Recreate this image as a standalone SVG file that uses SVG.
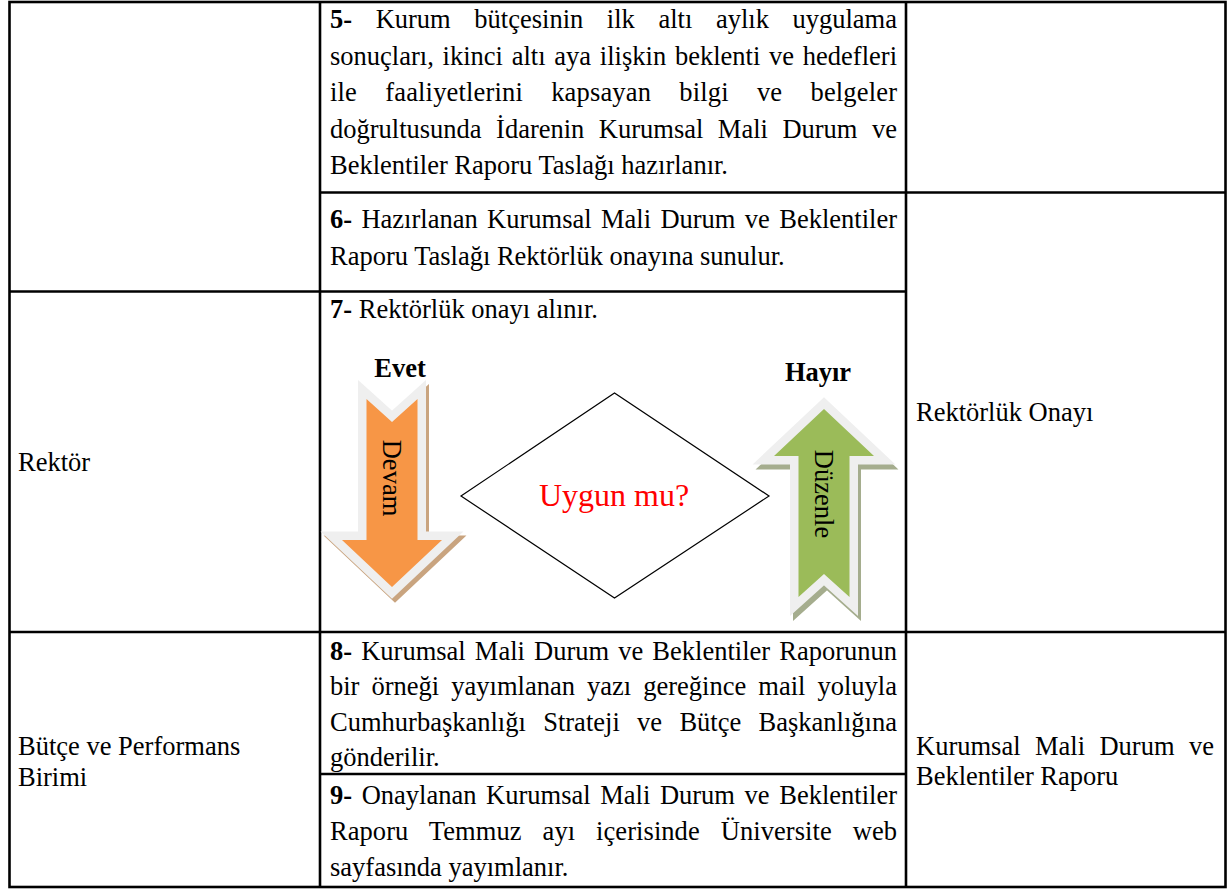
<svg xmlns="http://www.w3.org/2000/svg" width="1227" height="891" viewBox="0 0 1227 891">
  <style>
    text { font-family: "Liberation Serif", "Times New Roman", serif; font-size: 26.5px; fill: #000; }
    .b { font-weight: bold; }
    .grid { fill: none; stroke: #000; stroke-width: 2.6; }
    .dec { fill: #fff; stroke: #000; stroke-width: 1.2; }
    .q { font-size: 32px; fill: #ff0000; }
    .rim { stroke: #efefef; stroke-width: 17; stroke-linejoin: miter; fill: #efefef; }
  </style>
  <defs>
    <!-- block arrow pointing down, notched tail; origin at the shaft centre line -->
    <path id="blockArrow" d="M -25.5 0 L 0 23 L 25.5 0 L 25.5 141 L 50 141 L 0 188 L -50 141 L -25.5 141 Z"/>
  </defs>

  <rect width="1227" height="891" fill="#fff"/>

  <!-- table rules -->
  <g id="grid" class="grid">
    <rect x="9.5" y="2" width="1216" height="885"/>
    <line x1="320" y1="2" x2="320" y2="887"/>
    <line x1="906" y1="2" x2="906" y2="887"/>
    <line x1="320" y1="192.5" x2="1225.5" y2="192.5"/>
    <line x1="9.5" y1="291.5" x2="906" y2="291.5"/>
    <line x1="9.5" y1="632" x2="1225.5" y2="632"/>
    <line x1="320" y1="774" x2="906" y2="774"/>
  </g>

  <!-- left column: responsible units -->
  <g id="unit-rektor">
    <text x="18" y="471">Rektör</text>
  </g>
  <g id="unit-butce">
    <text x="18" y="755">Bütçe ve Performans</text>
    <text x="18" y="786">Birimi</text>
  </g>

  <!-- middle column: process steps -->
  <g id="step-5">
    <text x="330" y="28" textLength="567" lengthAdjust="spacing" word-spacing="17"><tspan class="b">5-</tspan> Kurum bütçesinin ilk altı aylık uygulama</text>
    <text x="330" y="65" textLength="567" lengthAdjust="spacing" word-spacing="2.1">sonuçları, ikinci altı aya ilişkin beklenti ve hedefleri</text>
    <text x="330" y="101" textLength="567" lengthAdjust="spacing" word-spacing="21.4">ile faaliyetlerini kapsayan bilgi ve belgeler</text>
    <text x="330" y="138" textLength="567" lengthAdjust="spacing" word-spacing="7.9">doğrultusunda İdarenin Kurumsal Mali Durum ve</text>
    <text x="330" y="174">Beklentiler Raporu Taslağı hazırlanır.</text>
  </g>
  <g id="step-6">
    <text x="330" y="228" textLength="567" lengthAdjust="spacing" word-spacing="2.75"><tspan class="b">6-</tspan> Hazırlanan Kurumsal Mali Durum ve Beklentiler</text>
    <text x="330" y="265">Raporu Taslağı Rektörlük onayına sunulur.</text>
  </g>
  <g id="step-7">
    <text x="330" y="318"><tspan class="b">7-</tspan> Rektörlük onayı alınır.</text>
  </g>
  <g id="step-8">
    <text x="330" y="660" textLength="567" lengthAdjust="spacing" word-spacing="2.5"><tspan class="b">8-</tspan> Kurumsal Mali Durum ve Beklentiler Raporunun</text>
    <text x="330" y="695" textLength="567" lengthAdjust="spacing" word-spacing="5.45">bir örneği yayımlanan yazı gereğince mail yoluyla</text>
    <text x="330" y="731" textLength="567" lengthAdjust="spacing" word-spacing="10.7">Cumhurbaşkanlığı Strateji ve Bütçe Başkanlığına</text>
    <text x="330" y="766">gönderilir.</text>
  </g>
  <g id="step-9">
    <text x="330" y="804" textLength="567" lengthAdjust="spacing" word-spacing="3"><tspan class="b">9-</tspan> Onaylanan Kurumsal Mali Durum ve Beklentiler</text>
    <text x="330" y="840" textLength="567" lengthAdjust="spacing" word-spacing="14.3">Raporu Temmuz ayı içerisinde Üniversite web</text>
    <text x="330" y="876">sayfasında yayımlanır.</text>
  </g>

  <!-- decision -->
  <g id="decision">
    <polygon class="dec" points="461,496 614.5,393 769,496 614.5,598"/>
    <text class="q" x="614" y="506" text-anchor="middle">Uygun mu?</text>
  </g>

  <!-- yes / no branches drawn as block arrows -->
  <g id="connectors">
    <g id="branch-evet">
      <text class="b" x="400" y="377" text-anchor="middle">Evet</text>
      <use href="#blockArrow" transform="translate(395,403)" fill="#c9a47f" stroke="#c9a47f" stroke-width="17" stroke-linejoin="miter"/>
      <use href="#blockArrow" transform="translate(392,399)" class="rim"/>
      <use href="#blockArrow" transform="translate(392,399)" fill="#f79646"/>
      <text transform="translate(383,478) rotate(90)" text-anchor="middle">Devam</text>
    </g>
    <g id="branch-hayir">
      <text class="b" x="818" y="381" text-anchor="middle">Hayır</text>
      <use href="#blockArrow" transform="translate(827,602) rotate(180)" fill="#a5ad8e" stroke="#a5ad8e" stroke-width="17" stroke-linejoin="miter"/>
      <use href="#blockArrow" transform="translate(824,597) rotate(180)" class="rim"/>
      <use href="#blockArrow" transform="translate(824,597) rotate(180)" fill="#9bbb59"/>
      <text transform="translate(815,494) rotate(90)" text-anchor="middle">Düzenle</text>
    </g>
  </g>

  <!-- right column: outputs -->
  <g id="output-onay">
    <text x="916" y="421">Rektörlük Onayı</text>
  </g>
  <g id="output-rapor">
    <text x="916" y="755" textLength="298" lengthAdjust="spacing" word-spacing="7.8">Kurumsal Mali Durum ve</text>
    <text x="916" y="785">Beklentiler Raporu</text>
  </g>
</svg>
